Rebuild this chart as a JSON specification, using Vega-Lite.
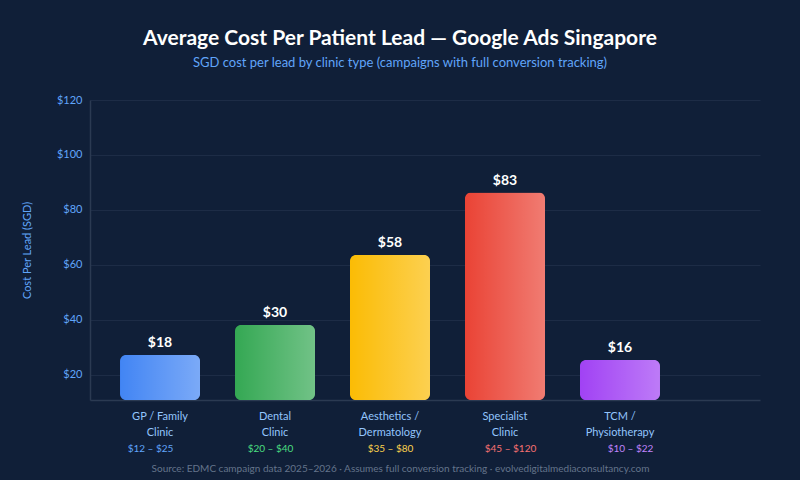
{
  "$schema": "https://vega.github.io/schema/vega-lite/v6.json",
  "width": 670,
  "height": 300,
  "autosize": {"type": "none"},
  "padding": {"left": 90, "top": 100, "right": 40, "bottom": 80},
  "background": "#101f38",
  "config": {
    "font": "Lato",
    "view": {"stroke": null}
  },
  "title": {
    "text": "Average Cost Per Patient Lead — Google Ads Singapore",
    "subtitle": "SGD cost per lead by clinic type (campaigns with full conversion tracking)",
    "anchor": "middle",
    "dx": -25,
    "offset": 24,
    "fontSize": 21,
    "fontWeight": "bold",
    "color": "#ffffff",
    "subtitleFontSize": 13,
    "subtitleColor": "#60a5fa",
    "subtitlePadding": 8,
    "font": "Lato",
    "subtitleFont": "Lato"
  },
  "data": {
    "values": [
      {"clinic": "GP / Family\nClinic", "cpl": 18, "range": "$12 – $25"},
      {"clinic": "Dental\nClinic", "cpl": 30, "range": "$20 – $40"},
      {"clinic": "Aesthetics /\nDermatology", "cpl": 58, "range": "$35 – $80"},
      {"clinic": "Specialist\nClinic", "cpl": 83, "range": "$45 – $120"},
      {"clinic": "TCM /\nPhysiotherapy", "cpl": 16, "range": "$10 – $22"}
    ]
  },
  "layer": [
    {
      "mark": {"type": "point", "opacity": 0},
      "encoding": {
        "y": {
          "field": "cpl",
          "type": "quantitative",
          "scale": {"domain": [10.909, 120], "nice": false, "zero": false},
          "axis": {
            "orient": "left",
            "values": [10.909, 20, 40, 60, 80, 100, 120],
            "labelExpr": "datum.value < 15 ? '' : '$' + datum.value",
            "labelColor": "#60a5fa",
            "labelFontSize": 11,
            "labelPadding": 8,
            "ticks": false,
            "domain": true,
            "domainColor": "#2b3a52",
            "domainWidth": 1.5,
            "grid": true,
            "gridColor": {"expr": "datum.value < 15 ? '#2b3a52' : '#1d2c46'"},
            "gridWidth": {"expr": "datum.value < 15 ? 1.5 : 1"},
            "title": "Cost Per Lead (SGD)",
            "titleColor": "#60a5fa",
            "titleFontSize": 11,
            "titleFontWeight": "normal",
            "titlePadding": 24
          }
        }
      }
    },
    {
      "mark": {"type": "point", "opacity": 0},
      "encoding": {
        "x": {
          "field": "range",
          "type": "nominal",
          "sort": null,
          "scale": {"range": [0, 600], "paddingInner": 0.304, "paddingOuter": 0.261},
          "axis": {
            "orient": "bottom",
            "domain": false,
            "ticks": false,
            "labelAngle": 0,
            "labelPadding": 43,
            "labelFontSize": 10,
            "labelBaseline": "top",
            "labelColor": {"expr": "datum.value == '$12 – $25' ? '#60a5fa' : datum.value == '$20 – $40' ? '#4ade80' : datum.value == '$35 – $80' ? '#fcd34d' : datum.value == '$45 – $120' ? '#f87171' : '#c084fc'"},
            "title": "Source: EDMC campaign data 2025–2026 · Assumes full conversion tracking · evolvedigitalmediaconsultancy.com",
            "titleColor": "#64748b",
            "titleFontSize": 10,
            "titleFontWeight": "normal",
            "titleX": 310,
            "titleAlign": "center",
            "titlePadding": 10
          }
        },
        "y": {
          "field": "cpl",
          "type": "quantitative",
          "scale": {"domain": [0, 120], "nice": false},
          "axis": null
        }
      }
    },
    {
      "encoding": {
        "x": {
          "field": "clinic",
          "type": "nominal",
          "sort": null,
          "scale": {"range": [0, 600], "paddingInner": 0.304, "paddingOuter": 0.261},
          "axis": {
            "orient": "bottom",
            "domain": false,
            "ticks": false,
            "labelAngle": 0,
            "labelPadding": 10,
            "labelFontSize": 11,
            "labelLineHeight": 16,
            "labelBaseline": "top",
            "labelColor": "#93c5fd",
            "labelExpr": "split(datum.value, '\\n')",
            "title": null
          }
        },
        "y": {
          "field": "cpl",
          "type": "quantitative",
          "scale": {"domain": [0, 120], "nice": false},
          "axis": null
        }
      },
      "layer": [
        {
          "mark": {"type": "bar", "cornerRadius": 6},
          "encoding": {
            "color": {
              "field": "clinic",
              "type": "nominal",
              "sort": null,
              "scale": {"range": ["#4285f4", "#34a853", "#fbbc05", "#ea4335", "#a142f4"]},
              "legend": null
            }
          }
        },
        {
          "mark": {
            "type": "bar",
            "cornerRadius": 6,
            "color": {
              "gradient": "linear",
              "x1": 0, "y1": 0, "x2": 1, "y2": 0,
              "stops": [
                {"offset": 0, "color": "rgba(255,255,255,0)"},
                {"offset": 1, "color": "rgba(255,255,255,0.3)"}
              ]
            }
          }
        },
        {
          "mark": {"type": "text", "baseline": "middle", "dy": -12, "fontSize": 14, "fontWeight": "bold", "color": "#ffffff"},
          "encoding": {
            "text": {"field": "cpl", "type": "quantitative", "format": "$.0f"}
          }
        }
      ]
    }
  ],
  "resolve": {
    "scale": {"x": "independent", "y": "independent"},
    "axis": {"x": "independent", "y": "independent"}
  }
}
